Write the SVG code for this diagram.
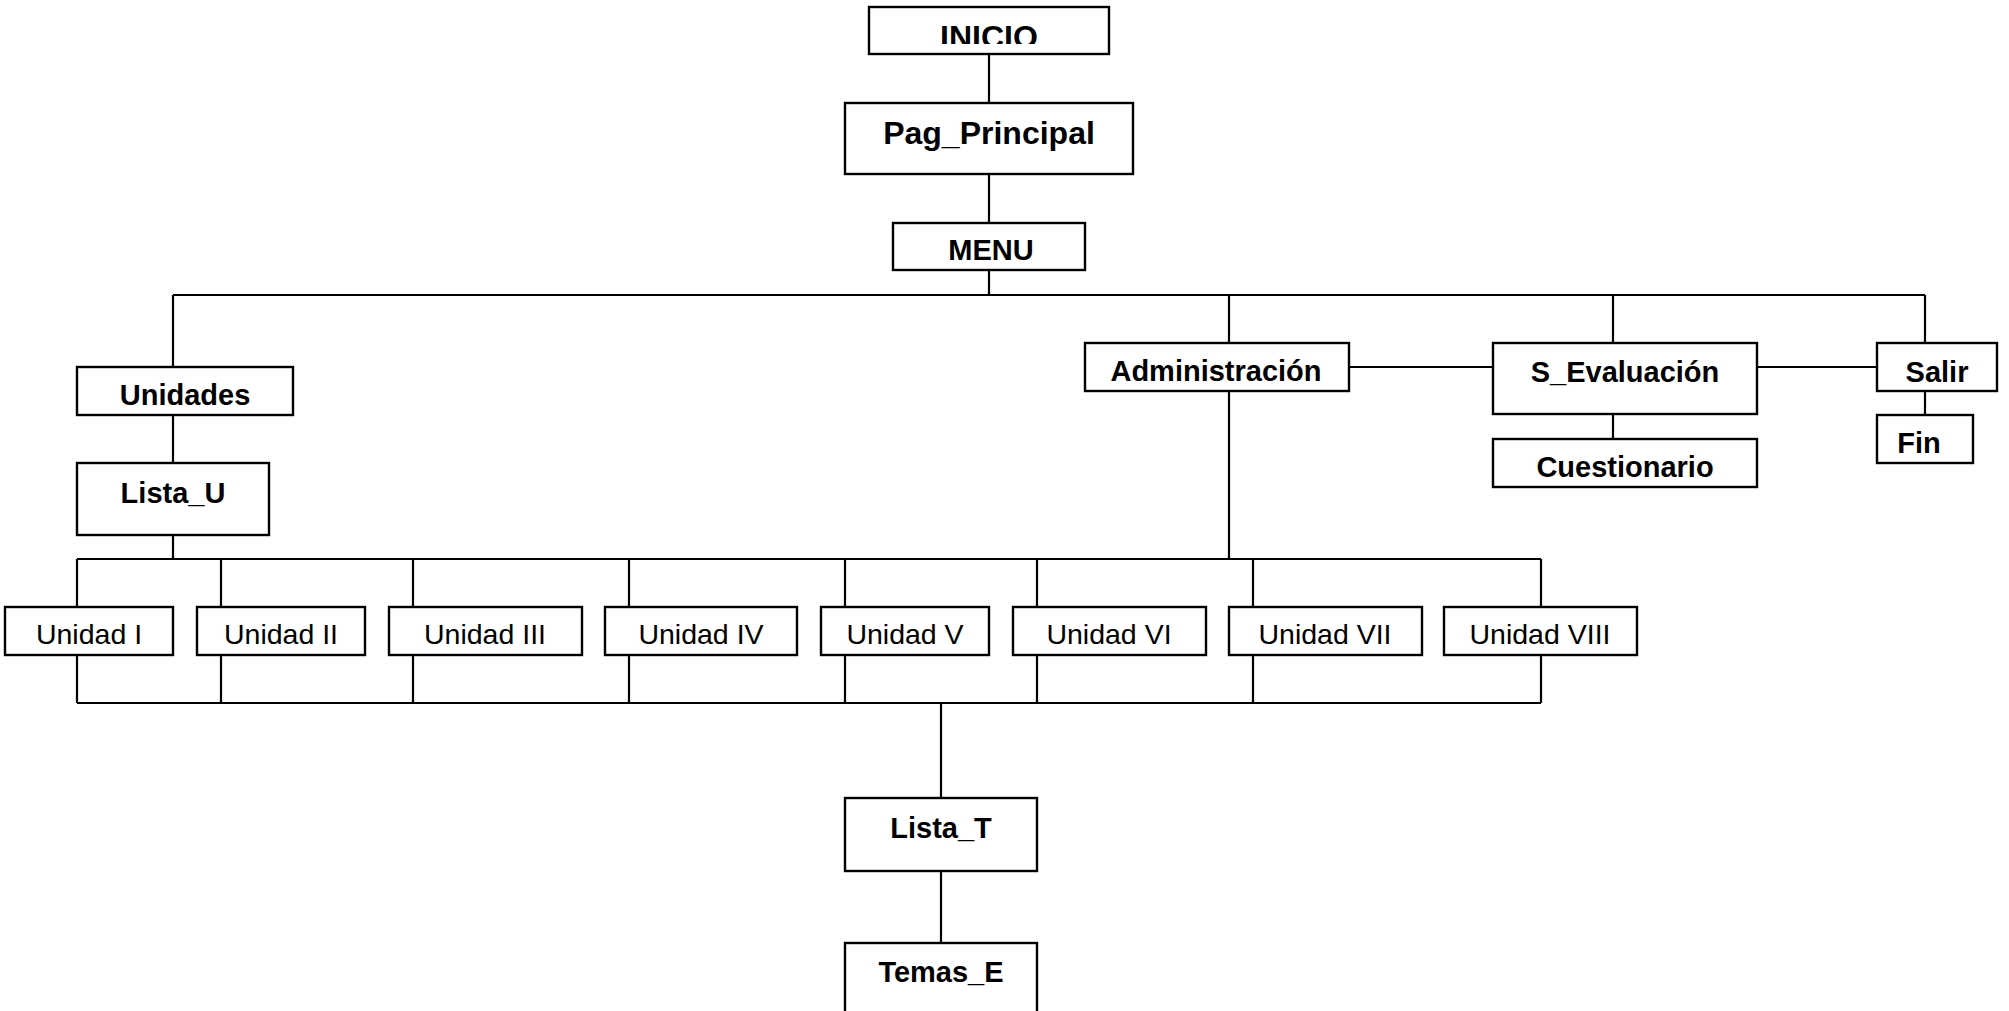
<svg xmlns="http://www.w3.org/2000/svg" width="2009" height="1011" viewBox="0 0 2009 1011">
<style>
  .box { fill: #ffffff; stroke: #000000; stroke-width: 2.4; }
  .b { font-family: "Liberation Sans", Arial, sans-serif; font-weight: bold; font-size: 29px; fill: #000; text-anchor: middle; }
  .big { font-size: 32px; }
  .r { font-family: "Liberation Sans", Arial, sans-serif; font-size: 28.5px; fill: #000; text-anchor: middle; }
  .conn path { fill: none; stroke: #000000; stroke-width: 2.2; }
</style>
<defs>
  <clipPath id="clipInicio"><rect x="869" y="7" width="240" height="37"/></clipPath>
</defs>
<rect width="2009" height="1011" fill="#ffffff"/>
<g class="conn" id="connectors">
  <path d="M989 54V103M989 174V223M989 270V295"/>
  <path d="M173 295H1925M173 295V367M1229 295V343M1613 295V343M1925 295V343"/>
  <path d="M1349 367H1493M1757 367H1877M1613 414V439M1925 391V415"/>
  <path d="M173 415V463M173 535V559M1229 391V559"/>
  <path d="M77 559H1541M77 703H1541"/>
  <path d="M77 559V607M221 559V607M413 559V607M629 559V607M845 559V607M1037 559V607M1253 559V607M1541 559V607"/>
  <path d="M77 655V703M221 655V703M413 655V703M629 655V703M845 655V703M1037 655V703M1253 655V703M1541 655V703"/>
  <path d="M941 703V798M941 871V943"/>
</g>
<g id="inicio"><rect class="box" x="869" y="7" width="240" height="47"/><text class="b big" x="989" y="48" clip-path="url(#clipInicio)">INICIO</text></g>
<g id="pag_principal"><rect class="box" x="845" y="103" width="288" height="71"/><text class="b big" x="989" y="144">Pag_Principal</text></g>
<g id="menu"><rect class="box" x="893" y="223" width="192" height="47"/><text class="b" x="991" y="260">MENU</text></g>
<g id="unidades"><rect class="box" x="77" y="367" width="216" height="48"/><text class="b" x="185" y="405">Unidades</text></g>
<g id="lista_u"><rect class="box" x="77" y="463" width="192" height="72"/><text class="b" x="173" y="503">Lista_U</text></g>
<g id="administracion"><rect class="box" x="1085" y="343" width="264" height="48"/><text class="b" x="1216" y="381">Administración</text></g>
<g id="s_evaluacion"><rect class="box" x="1493" y="343" width="264" height="71"/><text class="b" x="1625" y="382">S_Evaluación</text></g>
<g id="cuestionario"><rect class="box" x="1493" y="439" width="264" height="48"/><text class="b" x="1625" y="477">Cuestionario</text></g>
<g id="salir"><rect class="box" x="1877" y="343" width="120" height="48"/><text class="b" x="1937" y="382">Salir</text></g>
<g id="fin"><rect class="box" x="1877" y="415" width="96" height="48"/><text class="b" x="1919" y="453">Fin</text></g>
<g id="unidad1"><rect class="box" x="5" y="607" width="168" height="48"/><text class="r" x="89" y="644">Unidad I</text></g>
<g id="unidad2"><rect class="box" x="197" y="607" width="168" height="48"/><text class="r" x="281" y="644">Unidad II</text></g>
<g id="unidad3"><rect class="box" x="389" y="607" width="193" height="48"/><text class="r" x="485" y="644">Unidad III</text></g>
<g id="unidad4"><rect class="box" x="605" y="607" width="192" height="48"/><text class="r" x="701" y="644">Unidad IV</text></g>
<g id="unidad5"><rect class="box" x="821" y="607" width="168" height="48"/><text class="r" x="905" y="644">Unidad V</text></g>
<g id="unidad6"><rect class="box" x="1013" y="607" width="193" height="48"/><text class="r" x="1109" y="644">Unidad VI</text></g>
<g id="unidad7"><rect class="box" x="1229" y="607" width="193" height="48"/><text class="r" x="1325" y="644">Unidad VII</text></g>
<g id="unidad8"><rect class="box" x="1444" y="607" width="193" height="48"/><text class="r" x="1540" y="644">Unidad VIII</text></g>
<g id="lista_t"><rect class="box" x="845" y="798" width="192" height="73"/><text class="b" x="941" y="838">Lista_T</text></g>
<g id="temas_e"><rect class="box" x="845" y="943" width="192" height="90"/><text class="b" x="941" y="982">Temas_E</text></g>
</svg>
